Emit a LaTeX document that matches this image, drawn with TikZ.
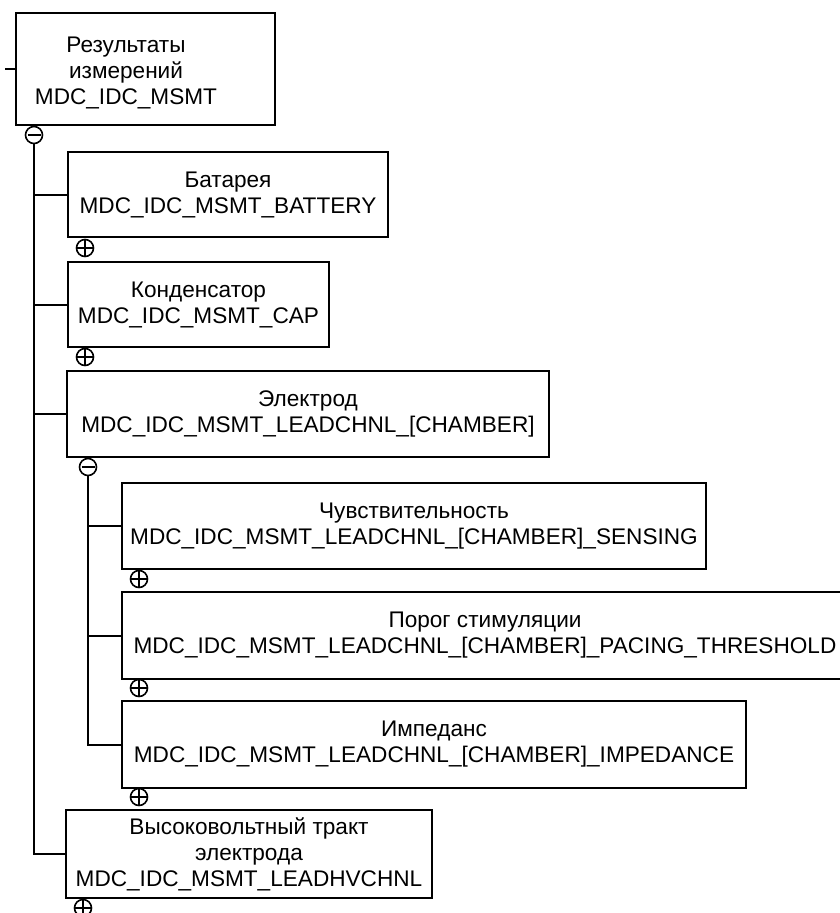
\documentclass[tikz,border=0pt]{standalone}
\usepackage{fontspec}
\setmainfont{Liberation Sans}
\usepackage{tikz}

\begin{document}
\begin{tikzpicture}[x=1pt,y=-1pt,line width=2pt,
  font=\fontsize{22.6}{26}\selectfont,
  box/.style={draw,rectangle,align=center,inner sep=0pt},
  opensign/.style={draw,circle,minimum size=17pt,inner sep=0pt,line width=1.6pt,fill=white,
    path picture={\draw[line width=1.6pt] ([xshift=2pt]path picture bounding box.west) -- ([xshift=-2pt]path picture bounding box.east);}},
  closedsign/.style={draw,circle,minimum size=17pt,inner sep=0pt,line width=1.6pt,fill=white,
    path picture={\draw[line width=1.6pt] (path picture bounding box.west) -- (path picture bounding box.east)
      (path picture bounding box.north) -- (path picture bounding box.south);}}]
  \useasboundingbox (0,0) rectangle (840,913);
  \clip (0,0) rectangle (840,913);
  % top level
  \node[box,minimum width=259pt,minimum height=112pt] (meas) at (145.5,69) {};
  \node[align=center] (meastxt) at (126,73) {Результаты\\измерений\\MDC\_IDC\_MSMT};
  \coordinate (stub) at (5,69);
  \draw (stub) -- (meas.west);
  \node[opensign] (measm) at (34,135) {};
  % children
  \node[box,minimum width=320pt,minimum height=85pt] (bat) at (228,194.5) {Батарея\\MDC\_IDC\_MSMT\_BATTERY};
  \node[box,minimum width=261pt,minimum height=85pt] (cap) at (198.5,304.5) {Конденсатор\\MDC\_IDC\_MSMT\_CAP};
  \node[box,minimum width=482pt,minimum height=86pt] (elec) at (308,414) {Электрод\\MDC\_IDC\_MSMT\_LEADCHNL\_[CHAMBER]};
  \node[box,minimum width=366pt,minimum height=88pt] (hv) at (249,854) {Высоковольтный тракт\\электрода\\MDC\_IDC\_MSMT\_LEADHVCHNL};
  \node[closedsign] (batp) at (85,248) {};
  \node[closedsign] (capp) at (85,357) {};
  \node[opensign] (elecm) at (88,467) {};
  \node[closedsign] (hvp) at (83,908) {};
  % leads
  \node[box,minimum width=584pt,minimum height=86pt] (sens) at (414,526) {Чувствительность\\MDC\_IDC\_MSMT\_LEADCHNL\_[CHAMBER]\_SENSING};
  \node[box,minimum width=726pt,minimum height=87pt] (pace) at (485,635.5) {Порог стимуляции\\MDC\_IDC\_MSMT\_LEADCHNL\_[CHAMBER]\_PACING\_THRESHOLD};
  \node[box,minimum width=624pt,minimum height=87pt] (imp) at (434,744.5) {Импеданс\\MDC\_IDC\_MSMT\_LEADCHNL\_[CHAMBER]\_IMPEDANCE};
  \node[closedsign] (sensp) at (139,579) {};
  \node[closedsign] (pacep) at (139,688) {};
  \node[closedsign] (impp) at (139,797) {};
  % tree lines
  \draw (measm.south) |- (hv.west);
  \foreach \b in {bat,cap,elec}
    \draw (measm.south |- \b.west) -- (\b.west);
  \draw (elecm.south) |- (imp.west);
  \foreach \b in {sens,pace}
    \draw (elecm.south |- \b.west) -- (\b.west);
\end{tikzpicture}
\end{document}
